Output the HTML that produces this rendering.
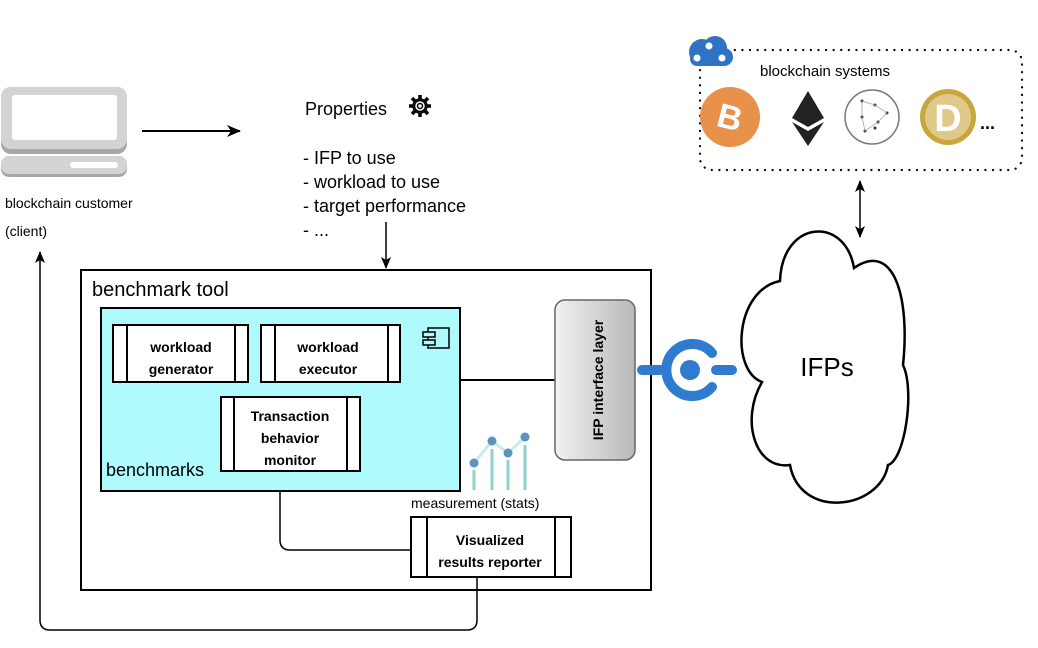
<!DOCTYPE html>
<html><head><meta charset="utf-8"><style>
html,body{margin:0;padding:0;background:#fff;}
svg{display:block;font-family:"Liberation Sans",Arial,sans-serif;}
</style></head><body>
<svg width="1038" height="648" viewBox="0 0 1038 648" xmlns="http://www.w3.org/2000/svg">
<defs>
<marker id="ar" markerWidth="14" markerHeight="14" refX="13" refY="7" orient="auto" markerUnits="userSpaceOnUse"><path d="M0,1 L14,7 L0,13 L4,7 Z" fill="#000"/></marker>
<marker id="ars" markerWidth="12" markerHeight="12" refX="11" refY="6" orient="auto" markerUnits="userSpaceOnUse"><path d="M0,1 L12,6 L0,11 L3,6 Z" fill="#000"/></marker>
<marker id="arr" markerWidth="12" markerHeight="12" refX="11" refY="6" orient="auto-start-reverse" markerUnits="userSpaceOnUse"><path d="M0,1 L12,6 L0,11 L3,6 Z" fill="#000"/></marker>
<linearGradient id="g" x1="0" x2="1" y1="0" y2="0"><stop offset="0" stop-color="#f2f2f2"/><stop offset="1" stop-color="#b8b8b8"/></linearGradient>
</defs>
<!-- computer -->
<rect x="1" y="87" width="126" height="67" rx="10" fill="#a8a8a8"/>
<rect x="1" y="87" width="126" height="62" rx="10" fill="#d3d3d3"/>
<rect x="12" y="95" width="105" height="45" rx="3" fill="#fff"/>
<rect x="1" y="156" width="126" height="21" rx="8" fill="#a8a8a8"/>
<rect x="1" y="156" width="126" height="18" rx="8" fill="#d3d3d3"/>
<rect x="70" y="162" width="48" height="6" rx="3" fill="#fff"/>
<text x="5" y="208" font-size="14">blockchain customer</text>
<text x="5" y="236" font-size="14">(client)</text>
<line x1="142" y1="131" x2="240" y2="131" stroke="#000" stroke-width="2" marker-end="url(#ar)"/>
<!-- properties -->
<text x="305" y="115" font-size="18">Properties</text>
<g transform="translate(420,106)" fill="none" stroke="#000" stroke-width="1.5">
<circle r="7"/><circle r="3"/>
<g stroke-width="3.5" stroke-linecap="butt">
<line x1="0" y1="-7" x2="0" y2="-11"/><line x1="0" y1="7" x2="0" y2="11"/><line x1="-7" y1="0" x2="-11" y2="0"/><line x1="7" y1="0" x2="11" y2="0"/>
<line x1="5" y1="5" x2="8" y2="8"/><line x1="-5" y1="-5" x2="-8" y2="-8"/><line x1="5" y1="-5" x2="8" y2="-8"/><line x1="-5" y1="5" x2="-8" y2="8"/>
</g>
<circle r="5" fill="#fff" stroke="none"/><circle r="5.5"/><circle r="2.5"/>
</g>
<text font-size="18"><tspan x="303" y="164">- IFP to use</tspan><tspan x="303" y="188">- workload to use</tspan><tspan x="303" y="212">- target performance</tspan><tspan x="303" y="236">- ...</tspan></text>
<line x1="386" y1="222" x2="386" y2="268" stroke="#000" stroke-width="1.5" marker-end="url(#ars)"/>
<!-- benchmark tool -->
<rect x="81" y="270" width="570" height="320" fill="none" stroke="#000" stroke-width="2"/>
<text x="92" y="296" font-size="20">benchmark tool</text>
<rect x="101" y="308" width="359" height="183" fill="#aefafd" stroke="#000" stroke-width="2"/>
<g fill="#fff" stroke="#000" stroke-width="2">
<rect x="113" y="325" width="135" height="57"/><line x1="127" y1="325" x2="127" y2="382"/><line x1="235" y1="325" x2="235" y2="382"/>
<rect x="261" y="325" width="139" height="57"/><line x1="275" y1="325" x2="275" y2="382"/><line x1="388" y1="325" x2="388" y2="382"/>
<rect x="221" y="397" width="139" height="74"/><line x1="234" y1="397" x2="234" y2="471"/><line x1="347" y1="397" x2="347" y2="471"/>
<rect x="411" y="517" width="160" height="60"/><line x1="427" y1="517" x2="427" y2="577"/><line x1="555" y1="517" x2="555" y2="577"/>
</g>
<g font-size="14" font-weight="bold" text-anchor="middle">
<text x="181" y="352">workload</text><text x="181" y="374">generator</text>
<text x="328" y="352">workload</text><text x="328" y="374">executor</text>
<text x="290" y="421">Transaction</text><text x="290" y="443">behavior</text><text x="290" y="465">monitor</text>
<text x="490" y="545">Visualized</text><text x="490" y="567">results reporter</text>
</g>
<text x="106" y="476" font-size="18">benchmarks</text>
<g fill="none" stroke="#000" stroke-width="1.5"><rect x="428" y="328" width="21" height="20"/><rect x="423" y="332" width="12" height="5" fill="#aefafd"/><rect x="423" y="340" width="12" height="5" fill="#aefafd"/></g>
<line x1="460" y1="380" x2="555" y2="380" stroke="#000" stroke-width="2"/>
<rect x="555" y="300" width="80" height="160" rx="10" fill="url(#g)" stroke="#666" stroke-width="1.5"/>
<text transform="translate(603,380) rotate(-90)" font-size="14" font-weight="bold" text-anchor="middle">IFP interface layer</text>
<!-- chart -->
<g stroke="#8fd1cc" stroke-width="3"><line x1="474" y1="470" x2="474" y2="490"/><line x1="492" y1="449" x2="492" y2="490"/><line x1="508" y1="460" x2="508" y2="490"/><line x1="525" y1="445" x2="525" y2="490"/></g>
<polyline points="474,463 492,441 508,453 525,437" fill="none" stroke="#c6e9f2" stroke-width="3"/>
<g fill="#5b93c0"><circle cx="474" cy="463" r="4.5"/><circle cx="492" cy="441" r="4.5"/><circle cx="508" cy="453" r="4.5"/><circle cx="525" cy="437" r="4.5"/></g>
<text x="411" y="508" font-size="14">measurement (stats)</text>
<path d="M280,491 V540 Q280,550 290,550 H411" fill="none" stroke="#000" stroke-width="1.5"/>
<path d="M477,577 V620 Q477,630 467,630 H50 Q40,630 40,620 V252" fill="none" stroke="#000" stroke-width="1.5" marker-end="url(#ars)"/>
<!-- connector icon -->
<g stroke="#2f7bd0" stroke-linecap="round" fill="none">
<line x1="642" y1="370" x2="660" y2="370" stroke-width="10"/>
<path d="M712,353 A26,26 0 1 0 712,387" stroke-width="10"/>
<line x1="716" y1="370" x2="732" y2="370" stroke-width="10"/>
</g>
<circle cx="690" cy="370" r="10" fill="#2f7bd0"/>
<!-- cloud -->
<path d="M780,281 C782,220 845,215 854,268 C895,240 910,300 903,365 C915,390 905,460 888,465 C880,510 800,520 790,465 C755,470 740,420 762,382 C730,370 735,290 780,281 Z" fill="#fff" stroke="#000" stroke-width="2.5"/>
<text x="827" y="376" font-size="26" text-anchor="middle">IFPs</text>
<line x1="860" y1="181" x2="860" y2="237" stroke="#000" stroke-width="1.5" marker-start="url(#arr)" marker-end="url(#arr)"/>
<!-- blockchain systems -->
<rect x="700" y="50" width="322" height="120" rx="12" fill="none" stroke="#000" stroke-width="2.2" stroke-dasharray="0.1,7.5" stroke-linecap="round"/>
<g fill="#2f74c4"><circle cx="702" cy="52" r="13"/><circle cx="715" cy="48" r="12"/><circle cx="724" cy="57" r="9"/><rect x="690" y="52" width="40" height="14" rx="7"/></g>
<g fill="#fff"><circle cx="697" cy="58" r="3.5"/><circle cx="709" cy="46" r="3.5"/><circle cx="722" cy="58" r="3.5"/></g>
<text x="760" y="76" font-size="15">blockchain systems</text>
<circle cx="730" cy="117" r="30" fill="#e8914a"/>
<text x="730" y="129" font-size="34" font-weight="bold" fill="#fff" text-anchor="middle" transform="rotate(14 730 117)">B</text>
<path d="M808,91 L792,118 L808,127 L824,118 Z" fill="#222"/>
<path d="M792,122 L808,146 L824,122 L808,131 Z" fill="#222"/>
<circle cx="872" cy="117" r="27" fill="#fff" stroke="#777" stroke-width="1.5"/>
<g fill="#333"><circle cx="862" cy="101" r="1.5"/><circle cx="875" cy="105" r="1.5"/><circle cx="887" cy="113" r="1.5"/><circle cx="862" cy="117" r="1.5"/><circle cx="878" cy="122" r="1.5"/><circle cx="865" cy="131" r="1.5"/><circle cx="875" cy="128" r="1.5"/></g>
<path d="M862,101 L875,105 L887,113 L878,122 L865,131 L862,117 Z" fill="none" stroke="#999" stroke-width="0.7"/>
<circle cx="948" cy="117" r="28" fill="#c9a63b"/>
<circle cx="948" cy="117" r="23" fill="#e0c88a"/>
<text x="948" y="131" font-size="38" font-weight="bold" fill="#fff" text-anchor="middle">D</text>
<text x="980" y="129" font-size="18" font-weight="bold">...</text>
</svg>
</body></html>
